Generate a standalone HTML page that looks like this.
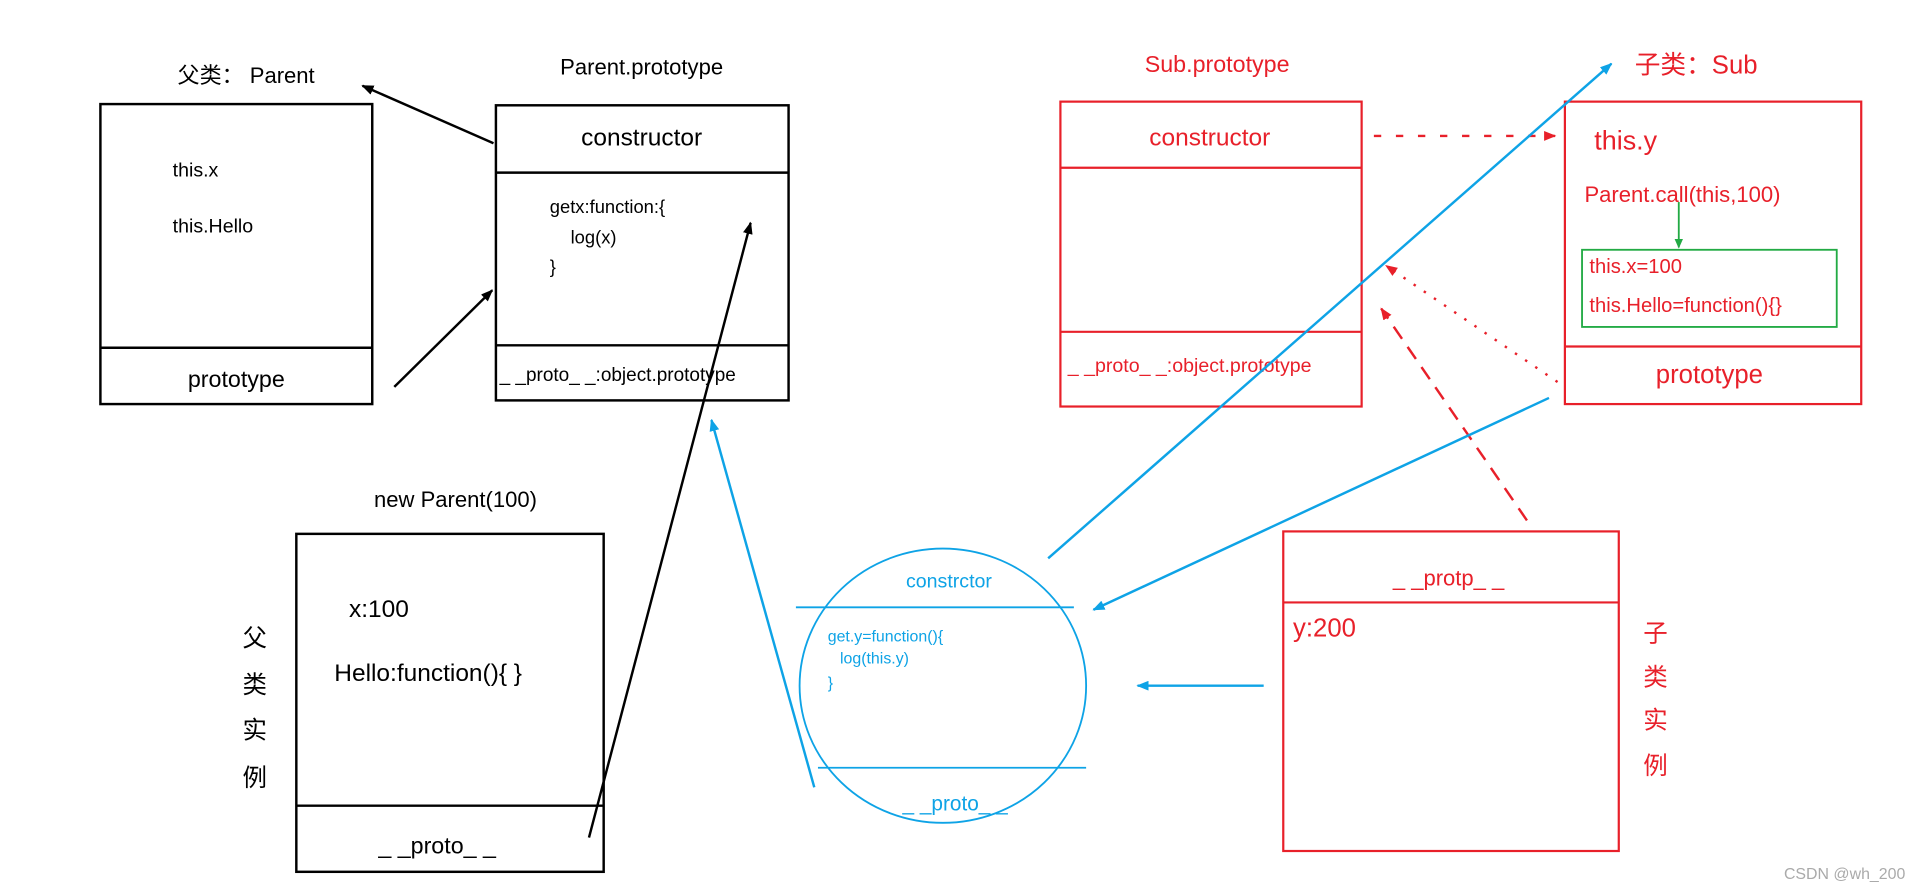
<!DOCTYPE html>
<html><head><meta charset="utf-8"><style>
html,body{margin:0;padding:0;background:#fff;width:1920px;height:893px;overflow:hidden}
svg{display:block}
text{font-family:"Liberation Sans","Noto Sans CJK SC",sans-serif}
</style></head><body>
<svg width="1920" height="893" viewBox="0 0 1568 729.3" preserveAspectRatio="none" xmlns="http://www.w3.org/2000/svg">
<defs>
<marker id="ak" markerWidth="10" markerHeight="8" refX="9" refY="4" orient="auto" markerUnits="userSpaceOnUse"><path d="M0,0 L10,4 L0,8 Z" fill="#000"/></marker>
<marker id="ar" markerWidth="10" markerHeight="8" refX="9" refY="4" orient="auto" markerUnits="userSpaceOnUse"><path d="M0,0 L10,4 L0,8 Z" fill="#e8202a"/></marker>
<marker id="ab" markerWidth="10" markerHeight="8" refX="9" refY="4" orient="auto" markerUnits="userSpaceOnUse"><path d="M0,0 L10,4 L0,8 Z" fill="#0ea3e6"/></marker>
<marker id="ag" markerWidth="8" markerHeight="7" refX="7" refY="3.5" orient="auto" markerUnits="userSpaceOnUse"><path d="M0,0 L8,3.5 L0,7 Z" fill="#22aa44"/></marker>
</defs>
<!-- black section -->
<text x="145" y="68" font-size="18" fill="#000">父类：  Parent</text>
<rect x="82" y="85" width="222" height="245" fill="none" stroke="#000" stroke-width="2"/>
<line x1="82" y1="284" x2="304" y2="284" stroke="#000" stroke-width="2"/>
<text x="141" y="144" font-size="16">this.x</text>
<text x="141" y="190" font-size="16">this.Hello</text>
<text x="193" y="316" font-size="19" text-anchor="middle">prototype</text>

<text x="524" y="61" font-size="18" text-anchor="middle">Parent.prototype</text>
<rect x="405" y="86" width="239" height="241" fill="none" stroke="#000" stroke-width="2"/>
<line x1="405" y1="141" x2="644" y2="141" stroke="#000" stroke-width="2"/>
<line x1="405" y1="282" x2="644" y2="282" stroke="#000" stroke-width="2"/>
<text x="524" y="119" font-size="20" text-anchor="middle">constructor</text>
<text x="449" y="174" font-size="15">getx:function:{</text>
<text x="466" y="199" font-size="15">log(x)</text>
<text x="449" y="223" font-size="15">}</text>
<text x="408" y="311" font-size="15.5">_ _proto_ _:object.prototype</text>

<line x1="403" y1="117" x2="296" y2="70" stroke="#000" stroke-width="2" marker-end="url(#ak)"/>
<line x1="322" y1="316" x2="402" y2="237" stroke="#000" stroke-width="2" marker-end="url(#ak)"/>

<text x="372" y="414" font-size="18" text-anchor="middle">new Parent(100)</text>
<rect x="242" y="436" width="251" height="276" fill="none" stroke="#000" stroke-width="2"/>
<line x1="242" y1="658" x2="493" y2="658" stroke="#000" stroke-width="2"/>
<text x="285" y="504" font-size="20">x:100</text>
<text x="273" y="556" font-size="20">Hello:function(){ }</text>
<text x="357" y="697" font-size="19" text-anchor="middle">_ _proto_ _</text>
<g font-size="20" text-anchor="middle">
<text x="208" y="528">父</text><text x="208" y="566">类</text><text x="208" y="603">实</text><text x="208" y="642">例</text>
</g>
<line x1="481" y1="684" x2="613" y2="182" stroke="#000" stroke-width="2" marker-end="url(#ak)"/>

<!-- red section -->
<g fill="#e8202a">
<text x="994" y="59" font-size="19" text-anchor="middle">Sub.prototype</text>
<text x="1335" y="60" font-size="21">子类：Sub</text>
<text x="988" y="119" font-size="20" text-anchor="middle">constructor</text>
<text x="872" y="304" font-size="16">_ _proto_ _:object.prototype</text>
<text x="1302" y="122" font-size="22">this.y</text>
<text x="1294" y="165" font-size="18">Parent.call(this,100)</text>
<text x="1298" y="223" font-size="16.5">this.x=100</text>
<text x="1298" y="255" font-size="16.5">this.Hello=function(){}</text>
<text x="1396" y="313" font-size="21" text-anchor="middle">prototype</text>
<text x="1183" y="478" font-size="18" text-anchor="middle">_ _protp_ _</text>
<text x="1056" y="520" font-size="21">y:200</text>
</g>
<g font-size="20" text-anchor="middle" fill="#e8202a">
<text x="1352" y="524">子</text><text x="1352" y="560">类</text><text x="1352" y="595">实</text><text x="1352" y="632">例</text>
</g>
<rect x="866" y="83" width="246" height="249" fill="none" stroke="#e8202a" stroke-width="1.8"/>
<line x1="866" y1="137" x2="1112" y2="137" stroke="#e8202a" stroke-width="1.8"/>
<line x1="866" y1="271" x2="1112" y2="271" stroke="#e8202a" stroke-width="1.8"/>
<rect x="1278" y="83" width="242" height="247" fill="none" stroke="#e8202a" stroke-width="1.8"/>
<line x1="1278" y1="283" x2="1520" y2="283" stroke="#e8202a" stroke-width="1.8"/>
<rect x="1292" y="204" width="208" height="63" fill="none" stroke="#22aa44" stroke-width="1.5"/>
<line x1="1371" y1="165" x2="1371" y2="202" stroke="#22aa44" stroke-width="1.5" marker-end="url(#ag)"/>
<rect x="1048" y="434" width="274" height="261" fill="none" stroke="#e8202a" stroke-width="1.8"/>
<line x1="1048" y1="492" x2="1322" y2="492" stroke="#e8202a" stroke-width="1.8"/>
<line x1="1122" y1="111" x2="1270" y2="111" stroke="#e8202a" stroke-width="2" stroke-dasharray="6,12" marker-end="url(#ar)"/>
<line x1="1272" y1="312" x2="1132" y2="217" stroke="#e8202a" stroke-width="2" stroke-dasharray="2,8" marker-end="url(#ar)"/>
<line x1="1247" y1="425" x2="1128" y2="252" stroke="#e8202a" stroke-width="2" stroke-dasharray="12,8" marker-end="url(#ar)"/>

<!-- blue section -->
<ellipse cx="770" cy="560" rx="117" ry="112" fill="none" stroke="#0ea3e6" stroke-width="1.5"/>
<line x1="650" y1="496" x2="877" y2="496" stroke="#0ea3e6" stroke-width="1.5"/>
<line x1="668" y1="627" x2="887" y2="627" stroke="#0ea3e6" stroke-width="1.5"/>
<g fill="#0ea3e6">
<text x="775" y="480" font-size="16" text-anchor="middle">constrctor</text>
<text x="676" y="524" font-size="13">get.y=function(){</text>
<text x="686" y="542" font-size="13">log(this.y)</text>
<text x="676" y="562" font-size="13">}</text>
<text x="780" y="662" font-size="17" text-anchor="middle">_ _proto_ _</text>
</g>
<line x1="665" y1="643" x2="581" y2="343" stroke="#0ea3e6" stroke-width="2" marker-end="url(#ab)"/>
<line x1="856" y1="456" x2="1316" y2="52" stroke="#0ea3e6" stroke-width="2" marker-end="url(#ab)"/>
<line x1="1265" y1="325" x2="893" y2="498" stroke="#0ea3e6" stroke-width="2" marker-end="url(#ab)"/>
<line x1="1032" y1="560" x2="929" y2="560" stroke="#0ea3e6" stroke-width="2" marker-end="url(#ab)"/>

<text x="1556" y="718" font-size="13" fill="#aaa" text-anchor="end">CSDN @wh_200</text>
</svg>
</body></html>
